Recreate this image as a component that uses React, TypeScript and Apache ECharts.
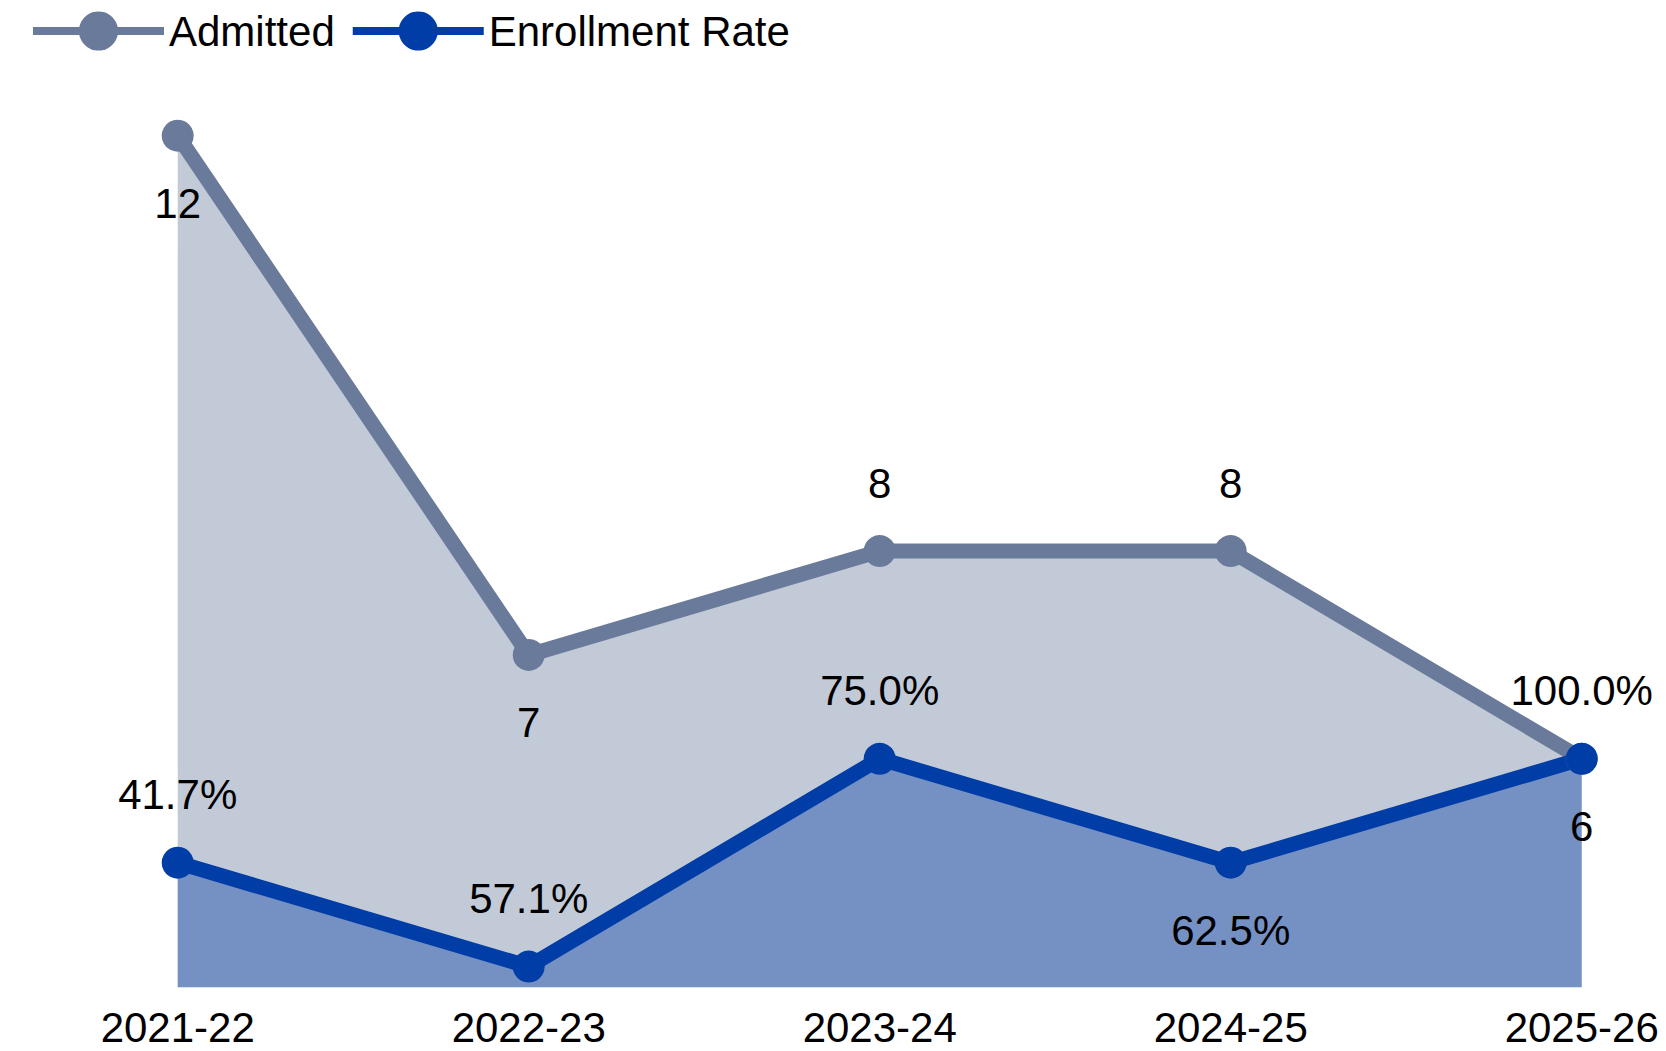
import React, { useEffect, useRef } from "react";
import * as echarts from "echarts";

const categories = ["2021-22", "2022-23", "2023-24", "2024-25", "2025-26"];
const admitted = [12, 7, 8, 8, 6];
const enrolled = [5, 4, 6, 5, 6];
const enrollmentRate = [41.7, 57.1, 75.0, 62.5, 100.0];
const admittedLabelPos = ["bottom", "bottom", "top", "top", "bottom"];
const rateLabelPos = ["top", "top", "top", "bottom", "top"];

const FONT = "'Liberation Sans', Arial, Helvetica, sans-serif";
const ADM_COLOR = "#6a7a9b";
const ENR_COLOR = "#003da6";

export default function App() {
  const ref = useRef<HTMLDivElement>(null);

  useEffect(() => {
    document.body.style.margin = "0";
    if (!ref.current) return;
    const chart = echarts.init(ref.current, null, { renderer: "svg" });
    const labelBase = {
      show: true,
      fontSize: 42,
      fontFamily: FONT,
      color: "#000",
      distance: 31,
    };
    chart.setOption({
      animation: false,
      backgroundColor: "#fff",
      textStyle: { fontFamily: FONT },
      legend: {
        left: 29,
        top: 10,
        padding: 0,
        itemWidth: 131,
        itemHeight: 49,
        itemGap: 14,
        textStyle: { fontSize: 42, fontFamily: FONT, color: "#000" },
        lineStyle: { width: 8 },
        data: ["Admitted", "Enrollment Rate"],
      },
      grid: { left: 177.7, right: 84.3, top: 114.9, bottom: 63.7 },
      xAxis: {
        type: "category",
        data: categories,
        boundaryGap: false,
        axisLine: { show: false },
        axisTick: { show: false },
        splitLine: { show: false },
        axisLabel: {
          fontSize: 42,
          fontFamily: FONT,
          color: "#000",
          margin: 19,
        },
      },
      yAxis: {
        type: "value",
        min: 3.8,
        max: 12.2,
        show: false,
        splitLine: { show: false },
      },
      series: [
        {
          name: "Admitted",
          type: "line",
          symbol: "circle",
          symbolSize: 32,
          lineStyle: { width: 15, color: ADM_COLOR },
          itemStyle: { color: ADM_COLOR },
          areaStyle: { color: ADM_COLOR, opacity: 0.4, origin: "start" },
          data: admitted.map((v, i) => ({
            value: v,
            label: { ...labelBase, position: admittedLabelPos[i] },
          })),
          label: { ...labelBase },
        },
        {
          name: "Enrollment Rate",
          type: "line",
          symbol: "circle",
          symbolSize: 32,
          lineStyle: { width: 15, color: ENR_COLOR },
          itemStyle: { color: ENR_COLOR },
          areaStyle: { color: ENR_COLOR, opacity: 0.4, origin: "start" },
          data: enrolled.map((v, i) => ({
            value: v,
            label: {
              ...labelBase,
              position: rateLabelPos[i],
              formatter: enrollmentRate[i].toFixed(1) + "%",
            },
          })),
          label: { ...labelBase },
        },
      ],
    });
    return () => chart.dispose();
  }, []);

  return (
    <div
      ref={ref}
      style={{ position: "absolute", left: 0, top: 0, width: 1666, height: 1051 }}
    />
  );
}
